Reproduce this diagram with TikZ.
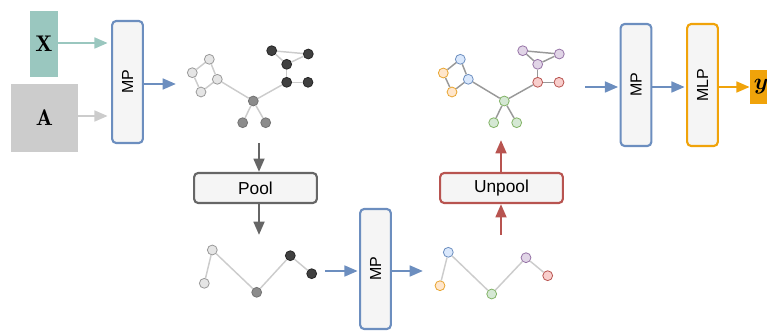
\documentclass[tikz,border=0pt]{standalone}
\usepackage{amsmath}
\usepackage{amssymb}
\usepackage{bm}
\usepackage{fontspec}
\newfontfamily\boxfont{Liberation Sans}
\usepackage{tikz}
\usetikzlibrary{arrows.meta, positioning}
\definecolor{mpblue}{HTML}{6C8EBF}
\definecolor{boxfill}{HTML}{F5F5F5}
\definecolor{poolgray}{HTML}{666666}
\definecolor{unpoolred}{HTML}{B85450}
\definecolor{mlporange}{HTML}{F0A30A}
\definecolor{xteal}{HTML}{9AC7BF}
\definecolor{agray}{HTML}{CCCCCC}
\definecolor{edgelight}{HTML}{CCCCCC}
\definecolor{edgedark}{HTML}{999999}
\definecolor{bluefill}{HTML}{DAE8FC}
\definecolor{orangefill}{HTML}{FFE6CC}
\definecolor{orangeline}{HTML}{E8A530}
\definecolor{greenfill}{HTML}{D5E8D4}
\definecolor{greenline}{HTML}{82B366}
\definecolor{purplefill}{HTML}{E1D5E7}
\definecolor{purpleline}{HTML}{9673A6}
\definecolor{redfill}{HTML}{F8CECC}
\tikzstyle{arrow} = [line width=2pt,-{Triangle[length=10pt,width=8pt]}]
\tikzset{
layerbox/.style={draw,line width=1.6pt,rounded corners=3pt,fill=boxfill,inner sep=0pt,font=\boxfont\fontsize{12}{14}\selectfont},
vlayer/.style={layerbox,rotate=90,minimum width=91.5pt,minimum height=23pt},
poolbox/.style={layerbox,minimum width=92pt,minimum height=22.5pt,font=\boxfont\fontsize{13}{15}\selectfont},
gnode/.style={circle,draw,line width=0.6pt,inner sep=0pt,minimum size=7.4pt},
ltnode/.style={gnode,fill=black!10,draw=black!40},
mdnode/.style={gnode,fill=black!45,draw=black!55},
dknode/.style={gnode,fill=black!75,draw=black!85},
bluenode/.style={gnode,fill=bluefill,draw=mpblue},
orangenode/.style={gnode,fill=orangefill,draw=orangeline},
greennode/.style={gnode,fill=greenfill,draw=greenline},
purplenode/.style={gnode,fill=purplefill,draw=purpleline},
rednode/.style={gnode,fill=redfill,draw=unpoolred}
}

\begin{document}
\begin{tikzpicture}[x=0.75pt,y=-0.75pt]
\useasboundingbox (0,0) rectangle (767,331);
%----------------------------------------------------------------------------
% Inputs and layers (vlayer is turned: its north side faces left)
\node (xbox) [fill=xteal,minimum width=21pt,minimum height=49.5pt,inner sep=0pt] at (44,44) {\fontsize{17}{19}\selectfont$\mathbf{X}$};
\node (abox) [fill=agray,minimum width=50pt,minimum height=51pt,inner sep=0pt] at (44.5,118) {\fontsize{17}{19}\selectfont$\mathbf{A}$};
\node (mpA) [vlayer,draw=mpblue] at (127.5,82) {MP};
\node (mpB) [vlayer,draw=mpblue] at (636,85) {MP};
\node (mlp) [vlayer,draw=mlporange] at (702.5,85) {MLP};
\node (ybox) [fill=mlporange,minimum width=16.5pt,minimum height=25.5pt,inner sep=0pt] at (761,87) {\fontsize{16}{18}\selectfont$\bm{y}$};
\node (pool) [poolbox,draw=poolgray] at (255.5,188) {Pool};
\node (unpool) [poolbox,draw=unpoolred] at (501.5,188) {Unpool};
\node (mpC) [vlayer,draw=mpblue,minimum width=90pt] at (375.5,269) {MP};

%----------------------------------------------------------------------------
% Input graph
\node (a1) [ltnode] at (209.3,59.3) {};
\node (a2) [ltnode] at (192.3,72.7) {};
\node (a3) [ltnode] at (217.3,79.3) {};
\node (a4) [ltnode] at (201,92) {};
\node (a5) [mdnode] at (253.3,101) {};
\node (a6) [mdnode] at (242.7,122.7) {};
\node (a7) [mdnode] at (265.7,122.7) {};
\node (a8) [dknode] at (271.7,50.7) {};
\node (a9) [dknode] at (308.3,54) {};
\node (a10) [dknode] at (286.7,64.3) {};
\node (a11) [dknode] at (286.7,82.3) {};
\node (a12) [dknode] at (308,82.3) {};
\foreach \u/\v in {a1/a2,a2/a4,a4/a3,a3/a1,a3/a5,a5/a6,a5/a7,a5/a11,a11/a12,a11/a10,a10/a9,a9/a8,a8/a10}
  \draw [edgelight,line width=1.1pt] (\u) -- (\v);

% Output graph
\node (b1) [bluenode] at (460.3,59.3) {};
\node (b2) [orangenode] at (443.3,73) {};
\node (b3) [bluenode] at (468.3,79.3) {};
\node (b4) [orangenode] at (452,92) {};
\node (b5) [greennode] at (504.3,101) {};
\node (b6) [greennode] at (493.7,122.7) {};
\node (b7) [greennode] at (516.7,122.7) {};
\node (b8) [purplenode] at (522.7,50.7) {};
\node (b9) [purplenode] at (559.3,54) {};
\node (b10) [purplenode] at (537.7,64.3) {};
\node (b11) [rednode] at (537.7,82.3) {};
\node (b12) [rednode] at (559,82.3) {};
\foreach \u/\v in {b1/b2,b2/b4,b4/b3,b3/b1,b3/b5,b5/b6,b5/b7,b5/b11,b11/b12,b11/b10,b10/b9,b9/b8,b8/b10}
  \draw [edgedark,line width=1.1pt] (\u) -- (\v);

% Pooled graphs
\node (c1) [ltnode] at (212.3,250) {};
\node (c2) [ltnode] at (204.3,283.3) {};
\node (c3) [mdnode] at (256.7,292.3) {};
\node (c4) [dknode] at (290.3,255.7) {};
\node (c5) [dknode] at (311.7,273.7) {};
\foreach \u/\v in {c1/c2,c1/c3,c3/c4,c4/c5}
  \draw [edgelight,line width=1.1pt] (\u) -- (\v);

\node (d1) [bluenode] at (448.3,252.3) {};
\node (d2) [orangenode] at (440,285.7) {};
\node (d3) [greennode] at (491.7,294) {};
\node (d4) [purplenode] at (526,257.7) {};
\node (d5) [rednode] at (547.7,275.7) {};
\foreach \u/\v in {d1/d2,d1/d3,d3/d4,d4/d5}
  \draw [edgelight,line width=1.1pt] (\u) -- (\v);

%----------------------------------------------------------------------------
% Lines
\coordinate (g1in) at (176,84);
\coordinate (g1out) at (259,143);
\coordinate (c0) at (259,235);
\coordinate (cout) at (325,271);
\coordinate (din) at (423,271);
\coordinate (d0) at (501,235);
\coordinate (g2in) at (501,140);
\coordinate (g2out) at (585,87);

\draw [arrow,xteal,shorten >=2.5pt] (xbox.east |- 0,43) -- (mpA.north |- 0,43);
\draw [arrow,agray,shorten >=2.5pt] (abox.east |- 0,116) -- (mpA.north |- 0,116);
\draw [arrow,mpblue] (mpA.south |- g1in) -- (g1in);
\draw [arrow,poolgray] (g1out) -- (g1out |- pool.north);
\draw [arrow,poolgray] (g1out |- pool.south) -- (c0);
\draw [arrow,mpblue,shorten >=1pt] (cout) -- (mpC.north |- cout);
\draw [arrow,mpblue] (mpC.south |- din) -- (din);
\draw [arrow,unpoolred] (d0) -- (d0 |- unpool.south);
\draw [arrow,unpoolred] (d0 |- unpool.north) -- (g2in);
\draw [arrow,mpblue,shorten >=1pt] (g2out) -- (mpB.north |- g2out);
\draw [arrow,mpblue,shorten >=1pt] (mpB.south |- g2out) -- (mlp.north |- g2out);
\draw [arrow,mlporange] (mlp.south |- g2out) -- (ybox.west |- g2out);

\end{tikzpicture}
\end{document}
